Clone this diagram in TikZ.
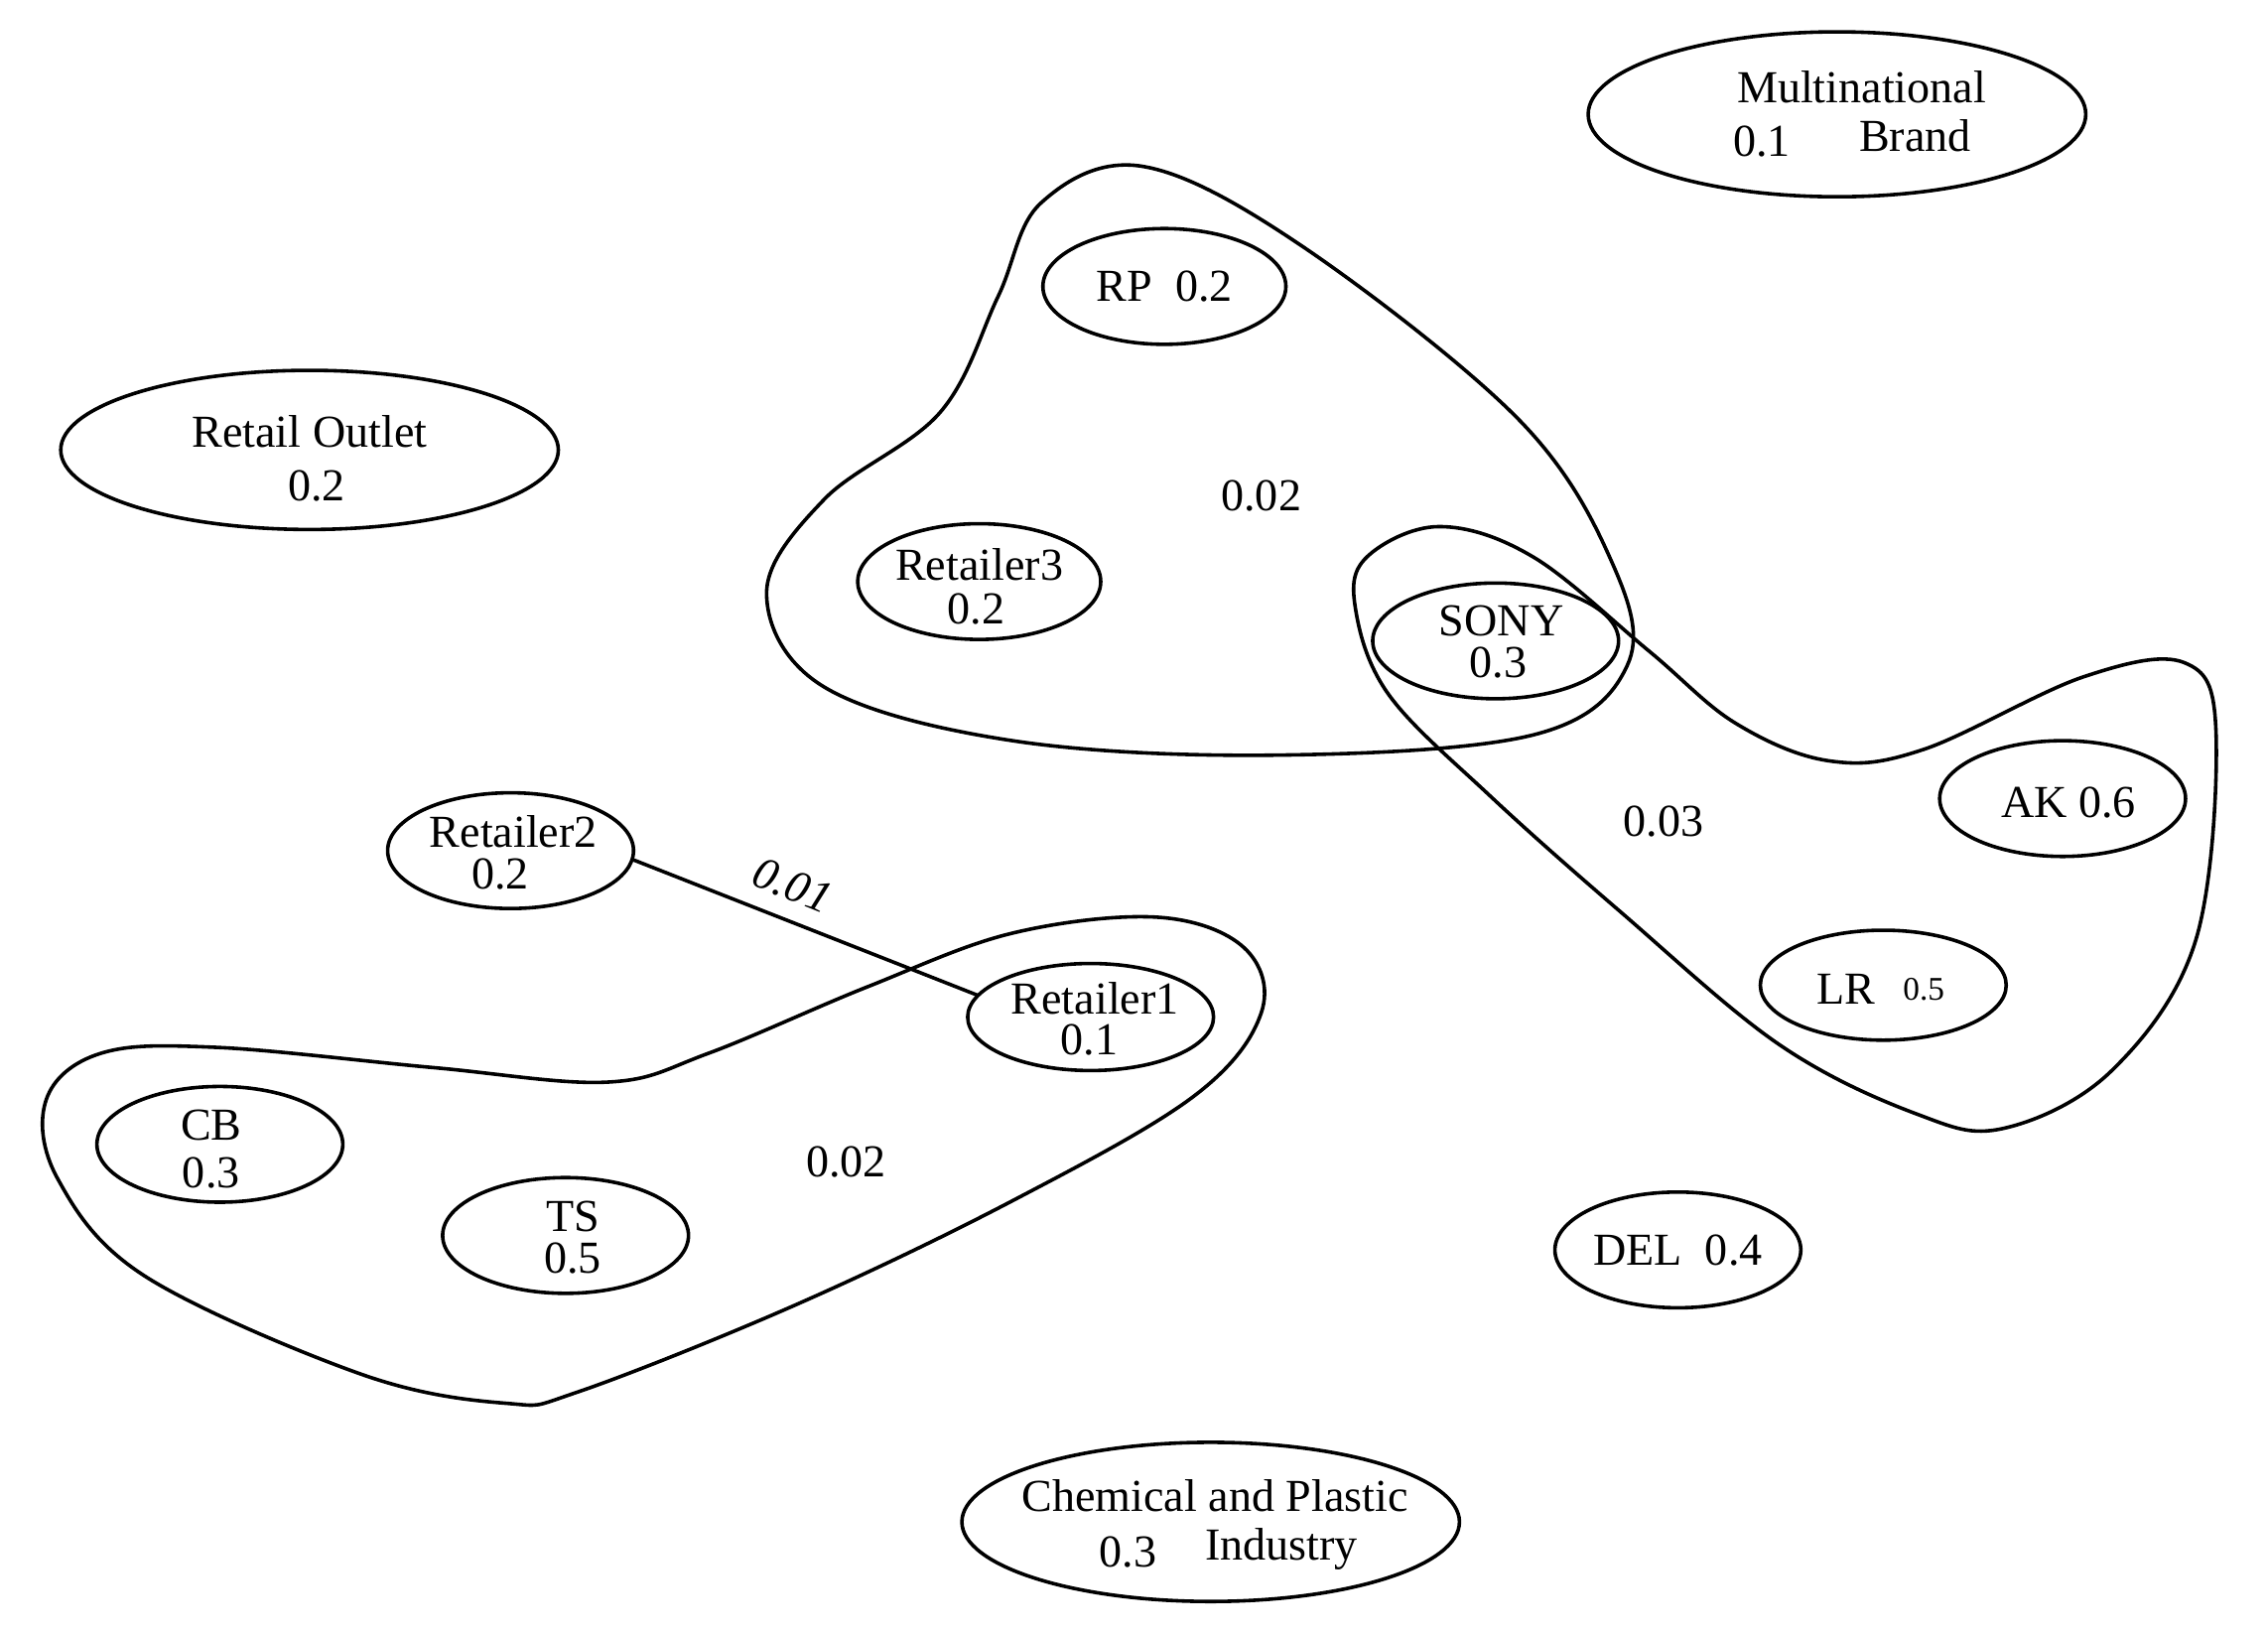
\documentclass[tikz,border=0pt]{standalone}
\usepackage{fontspec}
\setmainfont{Liberation Serif}
\begin{document}
\begin{tikzpicture}[x=0.02cm,y=-0.02cm,line width=1.4pt,
 t/.style={font=\fontsize{18}{20}\selectfont,inner sep=0pt},
 blob/.style={draw,line width=1.4pt}]
\useasboundingbox (0,0) rectangle (1568,1130);
\def\E#1#2#3#4#5{\draw (#2,#3) ellipse [x radius=#4*0.02cm,y radius=#5*0.02cm]; \coordinate (#1) at (#2,#3);}
\E{mb}{1270}{79}{172}{57}
\E{rp}{805}{198}{84}{40}
\E{ro}{214}{311}{172}{55}
\E{r3}{677}{402}{84}{40}
\E{sony}{1034}{443}{85}{40}
\E{ak}{1426}{552}{85}{40}
\E{r2}{353}{588}{85}{40}
\E{r1}{754}{703}{85}{37}
\E{lr}{1302}{681}{85}{38}
\E{cb}{152}{791}{85}{40}
\E{ts}{391}{854}{85}{40}
\E{del}{1160}{864}{85}{40}
\E{ch}{837}{1052}{172}{55}
\coordinate (r2e) at (437,594);
\coordinate (r1w) at (676,688);
\node[t] at (1287,60) {Multinational};
\node[t] at (1218,98) {0.1};
\node[t] at (1324,94) {Brand};
\node[t] at (805,198) {RP\enspace 0.2};
\node[t] at (214,298) {Retail Outlet};
\node[t] at (219,336) {0.2};
\node[t] at (677,390) {Retailer3};
\node[t] at (675,421) {0.2};
\node[t] at (1038,429) {SONY};
\node[t] at (1036,458) {0.3};
\node[t] at (1430,555) {AK 0.6};
\node[t] at (355,575) {Retailer2};
\node[t] at (346,604) {0.2};
\node[t] at (757,690) {Retailer1};
\node[t] at (753,719) {0.1};
\node[t] at (1276,684) {LR};
\node[t,font=\fontsize{13}{15}\selectfont] at (1330,684) {0.5};
\node[t] at (146,778) {CB};
\node[t] at (146,811) {0.3};
\node[t] at (396,841) {TS};
\node[t] at (396,870) {0.5};
\node[t] at (1160,864) {DEL\enspace 0.4};
\node[t] at (840,1034) {Chemical and Plastic};
\node[t] at (780,1073) {0.3};
\node[t] at (886,1071) {Industry};
\node[t] at (872,343) {0.02};
\node[t] at (1150,568) {0.03};
\node[t] at (585,803) {0.02};
\node[t,rotate=-22] at (548,612) {\itshape 0.01};
\draw (r2e) -- (r1w);
\draw[blob] plot[smooth cycle,tension=0.6] coordinates {(720,140) (790,115) (900,170) (1050,290) (1115,390) (1125,460) (1060,508) (880,522) (700,512) (570,475) (530,410) (570,345) (650,285) (690,205)};
\draw[blob] plot[smooth cycle,tension=0.6] coordinates {(945,385) (995,364) (1060,385) (1140,450) (1200,500) (1265,526) (1330,518) (1440,468) (1510,458) (1532,505) (1518,650) (1460,740) (1385,780) (1325,770) (1230,722) (1120,630) (1030,550) (960,480) (937,420)};
\draw[blob] plot[smooth cycle,tension=0.6] coordinates {(32,760) (70,728) (150,724) (300,738) (420,748) (490,728) (600,682) (700,645) (800,634) (860,655) (872,700) (825,758) (700,830) (550,902) (400,962) (350,970) (250,950) (100,882) (40,815)};
\end{tikzpicture}
\end{document}
